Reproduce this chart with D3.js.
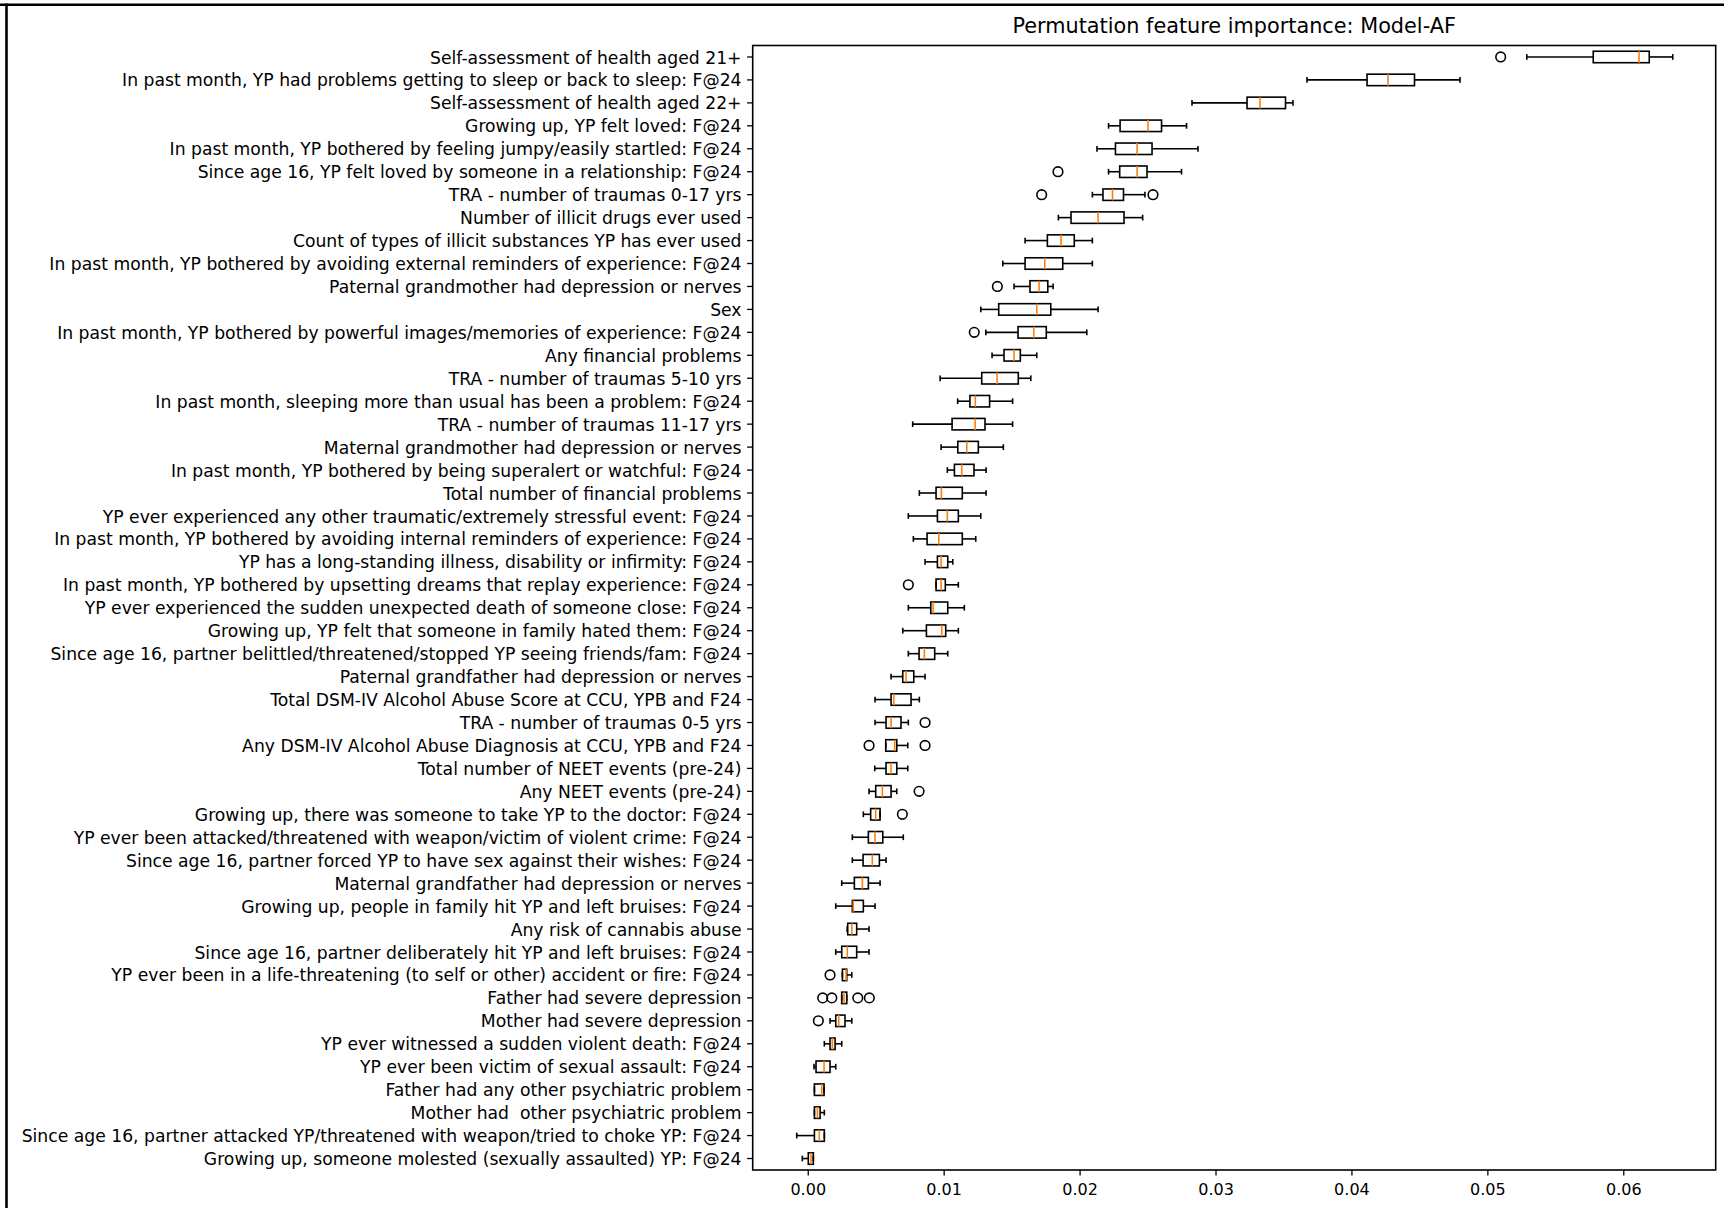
<!DOCTYPE html>
<html>
<head>
<meta charset="utf-8">
<script src="https://cdn.jsdelivr.net/npm/d3@7"></script>
<style>
  html, body { margin: 0; padding: 0; background: #fff; }
  svg { display: block; }
  text { font-family: "DejaVu Sans", sans-serif; fill: #000; white-space: pre; }
</style>
</head>
<body>
<svg id="chart" width="1724" height="1208"></svg>
<script>
const titleText = "Permutation feature importance: Model-AF";

const labels = [
  "Self-assessment of health aged 21+",
  "In past month, YP had problems getting to sleep or back to sleep: F@24",
  "Self-assessment of health aged 22+",
  "Growing up, YP felt loved: F@24",
  "In past month, YP bothered by feeling jumpy/easily startled: F@24",
  "Since age 16, YP felt loved by someone in a relationship: F@24",
  "TRA - number of traumas 0-17 yrs",
  "Number of illicit drugs ever used",
  "Count of types of illicit substances YP has ever used",
  "In past month, YP bothered by avoiding external reminders of experience: F@24",
  "Paternal grandmother had depression or nerves",
  "Sex",
  "In past month, YP bothered by powerful images/memories of experience: F@24",
  "Any financial problems",
  "TRA - number of traumas 5-10 yrs",
  "In past month, sleeping more than usual has been a problem: F@24",
  "TRA - number of traumas 11-17 yrs",
  "Maternal grandmother had depression or nerves",
  "In past month, YP bothered by being superalert or watchful: F@24",
  "Total number of financial problems",
  "YP ever experienced any other traumatic/extremely stressful event: F@24",
  "In past month, YP bothered by avoiding internal reminders of experience: F@24",
  "YP has a long-standing illness, disability or infirmity: F@24",
  "In past month, YP bothered by upsetting dreams that replay experience: F@24",
  "YP ever experienced the sudden unexpected death of someone close: F@24",
  "Growing up, YP felt that someone in family hated them: F@24",
  "Since age 16, partner belittled/threatened/stopped YP seeing friends/fam: F@24",
  "Paternal grandfather had depression or nerves",
  "Total DSM-IV Alcohol Abuse Score at CCU, YPB and F24",
  "TRA - number of traumas 0-5 yrs",
  "Any DSM-IV Alcohol Abuse Diagnosis at CCU, YPB and F24",
  "Total number of NEET events (pre-24)",
  "Any NEET events (pre-24)",
  "Growing up, there was someone to take YP to the doctor: F@24",
  "YP ever been attacked/threatened with weapon/victim of violent crime: F@24",
  "Since age 16, partner forced YP to have sex against their wishes: F@24",
  "Maternal grandfather had depression or nerves",
  "Growing up, people in family hit YP and left bruises: F@24",
  "Any risk of cannabis abuse",
  "Since age 16, partner deliberately hit YP and left bruises: F@24",
  "YP ever been in a life-threatening (to self or other) accident or fire: F@24",
  "Father had severe depression",
  "Mother had severe depression",
  "YP ever witnessed a sudden violent death: F@24",
  "YP ever been victim of sexual assault: F@24",
  "Father had any other psychiatric problem",
  "Mother had  other psychiatric problem",
  "Since age 16, partner attacked YP/threatened with weapon/tried to choke YP: F@24",
  "Growing up, someone molested (sexually assaulted) YP: F@24"
];

const whislo = [0.05290, 0.03673, 0.02827, 0.02213, 0.02128, 0.02213, 0.02094, 0.01844, 0.01599, 0.01435,
  0.01518, 0.01273, 0.01310, 0.01356, 0.00974, 0.01103, 0.00772, 0.00981, 0.01027, 0.00821,
  0.00740, 0.00777, 0.00863, 0.00944, 0.00740, 0.00699, 0.00740, 0.00613, 0.00495, 0.00495,
  0.00574, 0.00493, 0.00451, 0.00409, 0.00328, 0.00328, 0.00250, 0.00206, 0.00290, 0.00206,
  0.00255, 0.00250, 0.00164, 0.00122, 0.00046, 0.00049, 0.00049, -0.00081, -0.00040];

const q1 = [0.05779, 0.04115, 0.03232, 0.02298, 0.02264, 0.02295, 0.02172, 0.01937, 0.01763, 0.01599,
  0.01635, 0.01405, 0.01547, 0.01444, 0.01280, 0.01193, 0.01062, 0.01104, 0.01079, 0.00944,
  0.00954, 0.00878, 0.00954, 0.00944, 0.00905, 0.00873, 0.00819, 0.00699, 0.00613, 0.00576,
  0.00574, 0.00576, 0.00500, 0.00463, 0.00446, 0.00407, 0.00343, 0.00328, 0.00294, 0.00250,
  0.00255, 0.00250, 0.00206, 0.00164, 0.00061, 0.00049, 0.00049, 0.00049, 0.00004];

const medians = [0.06116, 0.04269, 0.03327, 0.02503, 0.02423, 0.02423, 0.02242, 0.02136, 0.01863, 0.01744,
  0.01702, 0.01685, 0.01663, 0.01518, 0.01393, 0.01233, 0.01231, 0.01170, 0.01133, 0.00983,
  0.01027, 0.00964, 0.00981, 0.00981, 0.00922, 0.00986, 0.00858, 0.00723, 0.00633, 0.00613,
  0.00640, 0.00613, 0.00549, 0.00500, 0.00495, 0.00475, 0.00402, 0.00335, 0.00324, 0.00291,
  0.00282, 0.00267, 0.00228, 0.00181, 0.00120, 0.00103, 0.00071, 0.00085, 0.00024];

const q3 = [0.06191, 0.04464, 0.03515, 0.02603, 0.02533, 0.02496, 0.02323, 0.02327, 0.01961, 0.01876,
  0.01766, 0.01788, 0.01755, 0.01564, 0.01549, 0.01338, 0.01304, 0.01255, 0.01223, 0.01137,
  0.01108, 0.01137, 0.01030, 0.01012, 0.01030, 0.01015, 0.00934, 0.00780, 0.00760, 0.00686,
  0.00655, 0.00655, 0.00613, 0.00532, 0.00552, 0.00527, 0.00446, 0.00409, 0.00360, 0.00360,
  0.00287, 0.00287, 0.00274, 0.00201, 0.00164, 0.00120, 0.00091, 0.00122, 0.00041];

const whishi = [0.06364, 0.04799, 0.03570, 0.02787, 0.02871, 0.02750, 0.02481, 0.02464, 0.02094, 0.02094,
  0.01805, 0.02136, 0.02053, 0.01685, 0.01641, 0.01507, 0.01507, 0.01439, 0.01312, 0.01312,
  0.01273, 0.01236, 0.01067, 0.01108, 0.01152, 0.01108, 0.01030, 0.00863, 0.00821, 0.00740,
  0.00736, 0.00736, 0.00655, 0.00532, 0.00703, 0.00576, 0.00532, 0.00495, 0.00451, 0.00451,
  0.00324, 0.00287, 0.00324, 0.00250, 0.00206, 0.00120, 0.00122, 0.00122, 0.00041];

const outliers = [[0.05098], [], [], [], [], [0.01841], [0.01721, 0.02540], [], [], [],
  [0.01395], [], [0.01225], [], [], [], [], [], [], [],
  [], [], [], [0.00740], [], [], [], [], [], [0.00863],
  [0.00451, 0.00863], [], [0.00819], [0.00696], [], [], [], [], [], [],
  [0.00164], [0.00110, 0.00177, 0.00368, 0.00453], [0.00078], [], [], [], [], [], []];

const xTicks = [0, 0.01, 0.02, 0.03, 0.04, 0.05, 0.06];

// ---------- layout ----------
const W = 1724, H = 1208;
const plot = { left: 752.7, right: 1715.7, top: 45.5, bottom: 1170 };
const LW = 1.6;

const svg = d3.select("#chart");
svg.append("rect").attr("width", W).attr("height", H).attr("fill", "#fff");

// outer figure frame lines (top & left)
svg.append("line").attr("x1", 0).attr("x2", W).attr("y1", 4.8).attr("y2", 4.8)
  .attr("stroke", "#000").attr("stroke-width", 2.6);
svg.append("line").attr("x1", 6.5).attr("x2", 6.5).attr("y1", 3.5).attr("y2", H)
  .attr("stroke", "#000").attr("stroke-width", 2.6);

const x = d3.scaleLinear().domain([-0.00405, 0.0668]).range([plot.left, plot.right]);
const y = d3.scaleBand().domain(labels).range([plot.top, plot.bottom]);
const bw = y.bandwidth();
const boxH = bw * 0.5;
const capH = bw * 0.25;

const rows = labels.map((l, i) => ({
  label: l, lo: whislo[i], q1: q1[i], med: medians[i], q3: q3[i], hi: whishi[i], out: outliers[i],
  cy: y(l) + bw / 2
}));

const g = svg.append("g");

// whiskers
g.selectAll(".wl").data(rows).join("line")
  .attr("x1", d => x(d.lo)).attr("x2", d => x(d.q1))
  .attr("y1", d => d.cy).attr("y2", d => d.cy)
  .attr("stroke", "#000").attr("stroke-width", LW);
g.selectAll(".wh").data(rows).join("line")
  .attr("x1", d => x(d.q3)).attr("x2", d => x(d.hi))
  .attr("y1", d => d.cy).attr("y2", d => d.cy)
  .attr("stroke", "#000").attr("stroke-width", LW);
// caps
g.selectAll(".cl").data(rows).join("line")
  .attr("x1", d => x(d.lo)).attr("x2", d => x(d.lo))
  .attr("y1", d => d.cy - capH / 2).attr("y2", d => d.cy + capH / 2)
  .attr("stroke", "#000").attr("stroke-width", LW);
g.selectAll(".ch").data(rows).join("line")
  .attr("x1", d => x(d.hi)).attr("x2", d => x(d.hi))
  .attr("y1", d => d.cy - capH / 2).attr("y2", d => d.cy + capH / 2)
  .attr("stroke", "#000").attr("stroke-width", LW);
// boxes
g.selectAll(".box").data(rows).join("rect")
  .attr("x", d => x(d.q1)).attr("width", d => Math.max(0, x(d.q3) - x(d.q1)))
  .attr("y", d => d.cy - boxH / 2).attr("height", boxH)
  .attr("fill", "none").attr("stroke", "#000").attr("stroke-width", LW);
// medians
g.selectAll(".med").data(rows).join("line")
  .attr("x1", d => x(d.med)).attr("x2", d => x(d.med))
  .attr("y1", d => d.cy - boxH / 2).attr("y2", d => d.cy + boxH / 2)
  .attr("stroke", "#ff7f0e").attr("stroke-width", LW);
// outliers
const outPts = rows.flatMap(d => d.out.map(v => ({ v, cy: d.cy })));
g.selectAll(".fl").data(outPts).join("circle")
  .attr("cx", d => x(d.v)).attr("cy", d => d.cy).attr("r", 4.8)
  .attr("fill", "none").attr("stroke", "#000").attr("stroke-width", LW);

// axes
const yAxis = svg.append("g").attr("transform", `translate(${plot.left},0)`)
  .call(d3.axisLeft(y).tickSize(5.6).tickPadding(5.6));
yAxis.select(".domain").remove();
yAxis.selectAll("text").style("font-size", "17.2px").style("font-family", "DejaVu Sans")
  .style("white-space", "pre").attr("dy", "0.38em");
yAxis.selectAll("line").attr("stroke-width", 1.3);

const xAxis = svg.append("g").attr("transform", `translate(0,${plot.bottom})`)
  .call(d3.axisBottom(x).tickValues(xTicks).tickFormat(d3.format(".2f")).tickSize(5.6).tickPadding(8.5));
xAxis.select(".domain").remove();
xAxis.selectAll("text").style("font-size", "16px").style("font-family", "DejaVu Sans");
xAxis.selectAll("line").attr("stroke-width", 1.3);

// spines
svg.append("rect").attr("x", plot.left).attr("y", plot.top)
  .attr("width", plot.right - plot.left).attr("height", plot.bottom - plot.top)
  .attr("fill", "none").attr("stroke", "#000").attr("stroke-width", 1.6);

// title
svg.append("text").attr("x", (plot.left + plot.right) / 2).attr("y", 33)
  .attr("text-anchor", "middle").style("font-size", "20.8px").text(titleText);
</script>
</body>
</html>
